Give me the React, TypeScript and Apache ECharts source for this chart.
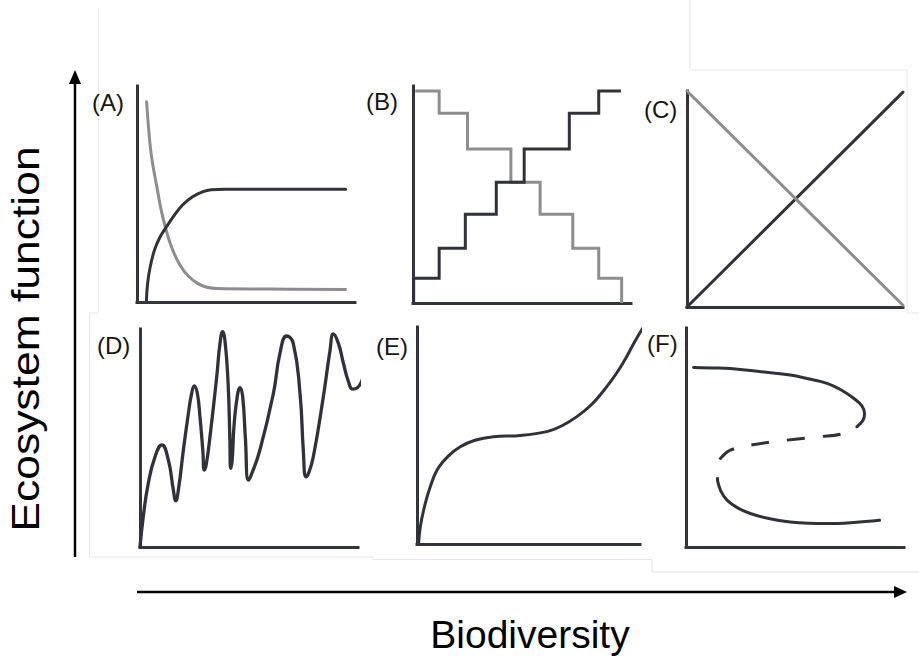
import React, { useEffect, useRef } from "react";
import * as echarts from "echarts";

// ---------- data (x: biodiversity 0-100, y: ecosystem function 0-100) ----------
const panelLabels = ["(A)", "(B)", "(C)", "(D)", "(E)", "(F)"];
const xTitle = "Biodiversity";
const yTitle = "Ecosystem function";

// Panel A
const aDark: [number, number][] = [
  [4.3, 0], [4.8, 8], [6, 16], [8, 24], [10.5, 30], [13.3, 34.5], [17, 40],
  [21, 45], [25.5, 48.7], [30, 51], [34, 52], [40, 52.2], [95.7, 52.2],
];
const aGrey: [number, number][] = [
  [4.4, 92.7], [5.2, 82], [6.2, 71], [7.5, 62], [9, 54], [11, 43], [13.3, 33.5],
  [16, 25], [19.5, 17.5], [23.5, 12], [28, 8.5], [32, 6.8], [37, 6.2], [60, 6], [95.7, 5.8],
];

// Panel B (step functions)
const bRiseX = [0.3, 12, 24, 38.2, 51, 71.7, 85.2, 95.4];
const bRiseY = [0, 11.4, 25.2, 40.9, 55.6, 71, 87.4, 97.7];
const bFallX = [1.05, 12, 25, 44.9, 58.3, 73.3, 85.2, 95.7];
const bFallY = [97.7, 87.4, 71, 55.6, 40.9, 25.2, 11.4, 0];

// Panel C
const cDark: [number, number][] = [[0, 0], [100, 99.5]];
const cGrey: [number, number][] = [[0, 100], [100, 0.8]];

// Panel D
const dCurve: [number, number][] = [
  [0, 0], [1.5, 13.9], [3.8, 29.2], [6.9, 41.4], [10, 46.8], [13, 39.9], [15.3, 26.1],
  [16.4, 21.2], [17.6, 26.1], [19.9, 44.5], [22.2, 61.3], [23.7, 70.5], [24.9, 73.9],
  [26.3, 70.5], [27.5, 59.8], [28.8, 44.5], [29.5, 35.3], [30.4, 38], [32.1, 50.6],
  [35.2, 78.1], [36.7, 93.4], [37.9, 98.8], [39.1, 93.4], [40.4, 75.1], [41.2, 50.6],
  [41.6, 36.1], [42.3, 40], [43.1, 55.2], [44.6, 68.9], [45.9, 73.1], [47.1, 68.9],
  [48.3, 50.6], [49.7, 30.7], [51, 33], [55, 44.5], [61.2, 70.5], [64.2, 88.8],
  [67.3, 96.8], [70.3, 93.4], [73.4, 70.5], [74.9, 44.5], [76.1, 32.2], [77.2, 33.5],
  [79.5, 41.4], [84.1, 68.9], [87.2, 90.4], [88.7, 97.7], [91, 93.4], [93.3, 84.3],
  [95.6, 75.9], [97.6, 72.4], [99.5, 72.9], [102.2, 77.4],
];

// Panel E
const eCurve: [number, number][] = [
  [0.7, 0], [1.5, 8], [3, 15.7], [5.5, 25], [9, 34.1], [14, 40.5], [19.4, 44.8],
  [26, 47.8], [34.3, 49.4], [46.3, 50], [58.2, 51.8], [65, 54.5], [71.7, 58.7],
  [78.5, 64.5], [85.1, 72.5], [90, 79.5], [94, 86.3], [97.5, 93], [101.2, 99.4],
];

// Panel F (fold / hysteresis)
const fUpper: [number, number][] = [
  [3.5, 82], [15, 81.7], [24.9, 81.1], [36, 79.9], [47.8, 78.5], [56, 76.8],
  [64.7, 74.7], [71, 71.8], [76.9, 67.9], [80.6, 64.5], [81.9, 61], [81.2, 57.9], [78.4, 54.9],
];
const fUnstable: [number, number][] = [
  [78.4, 54.9], [70.8, 51.5], [61.6, 50.4], [46.3, 48.8], [29.5, 46.5], [20.3, 44.2],
  [16.5, 41.2], [15, 38.9], [14.4, 34.5], [14.5, 30.2],
];
const fLower: [number, number][] = [
  [14.5, 30.2], [16, 25.5], [18.8, 21.4], [23.5, 18], [29.5, 15.3], [38, 13],
  [47.8, 11.4], [56, 10.8], [64.7, 10.7], [77, 11.2], [88.8, 12.2],
];

// ---------- styling ----------
const DARK = "#30323b";
const GREY = "#8d8d8d";
const AXIS = "#33353d";
const FRAME = "#e6e6e6";

const grids = [
  { left: 137, top: 86, width: 218, height: 216 },
  { left: 413, top: 86, width: 218, height: 217 },
  { left: 687, top: 91, width: 216, height: 216 },
  { left: 140, top: 329, width: 218, height: 218 },
  { left: 417, top: 327, width: 223, height: 217 },
  { left: 686, top: 328, width: 218, height: 219 },
];
const labelPos = [
  [92, 102], [366, 101], [644, 109], [97, 345], [376, 346], [647, 343],
];

function stepVerticalFirst(xs: number[], ys: number[]): [number, number][] {
  const out: [number, number][] = [];
  for (let i = 0; i < xs.length - 1; i++) {
    out.push([xs[i], ys[i]]);
    out.push([xs[i], ys[i + 1]]);
  }
  out.push([xs[xs.length - 1], ys[ys.length - 1]]);
  return out;
}
function stepHorizontalFirst(xs: number[], ys: number[]): [number, number][] {
  const out: [number, number][] = [];
  for (let i = 0; i < xs.length - 1; i++) {
    out.push([xs[i], ys[i]]);
    out.push([xs[i + 1], ys[i]]);
  }
  out.push([xs[xs.length - 1], ys[ys.length - 1]]);
  return out;
}

function axis(i: number) {
  return {
    gridIndex: i,
    type: "value",
    min: 0,
    max: 100,
    axisLine: { show: true, onZero: false, lineStyle: { color: AXIS, width: 3, cap: "square" } },
    axisTick: { show: false },
    axisLabel: { show: false },
    splitLine: { show: false },
  };
}

function line(i: number, data: [number, number][], color: string, smooth: number | boolean, extra: any = {}) {
  return {
    type: "line",
    xAxisIndex: i,
    yAxisIndex: i,
    data,
    symbol: "none",
    showSymbol: false,
    smooth,
    clip: false,
    silent: true,
    lineStyle: { color, width: extra.width ?? 3, cap: "round", join: "round", ...(extra.lineStyle || {}) },
    z: extra.z ?? 3,
  };
}

function frame(x1: number, y1: number, x2: number, y2: number) {
  return { type: "line", shape: { x1, y1, x2, y2 }, style: { stroke: FRAME, lineWidth: 1 }, z: 0 };
}

export default function App() {
  const ref = useRef<HTMLDivElement>(null);
  useEffect(() => {
    if (!ref.current) return;
    const chart = echarts.init(ref.current, null, { renderer: "svg" });
    const font = '"Liberation Sans", Arial, Helvetica, sans-serif';
    const option: any = {
      animation: false,
      backgroundColor: "#ffffff",
      grid: grids.map((g) => ({ ...g, containLabel: false })),
      xAxis: grids.map((_, i) => axis(i)),
      yAxis: grids.map((_, i) => axis(i)),
      series: [
        line(0, aGrey, GREY, 0.4),
        line(0, aDark, DARK, 0.4),
        line(1, stepHorizontalFirst(bFallX, bFallY), GREY, false, { lineStyle: { cap: "butt", join: "miter" } }),
        line(1, stepVerticalFirst(bRiseX, bRiseY), DARK, false, { lineStyle: { cap: "butt", join: "miter" } }),
        line(2, cDark, DARK, false),
        line(2, cGrey, GREY, false),
        line(3, dCurve, DARK, 0.5, { width: 3.3 }),
        line(4, eCurve, DARK, 0.4),
        line(5, fUpper, DARK, 0.4),
        line(5, fUnstable, DARK, 0.4, { lineStyle: { type: [18, 18], dashOffset: 18, cap: "butt" } }),
        line(5, fLower, DARK, 0.4),
      ],
      graphic: {
        elements: [
          frame(98.5, 8, 98.5, 313),
          frame(89.5, 313, 98.5, 313),
          frame(89.5, 313, 89.5, 557),
          frame(89.5, 557, 373, 557),
          frame(373, 557, 373, 559.5),
          frame(373, 559.5, 652, 559.5),
          frame(652, 559.5, 652, 572),
          frame(652, 572, 919, 572),
          frame(690, 0, 690, 70),
          frame(690, 70, 907, 70),
          frame(907, 70, 907, 313),
          frame(907, 313, 919, 313),
          ...panelLabels.map((t, i) => ({
            type: "text",
            x: labelPos[i][0],
            y: labelPos[i][1],
            z: 10,
            style: { text: t, font: `24px ${font}`, fill: "#151515", textAlign: "left", textVerticalAlign: "middle" },
          })),
          {
            type: "line",
            shape: { x1: 75, y1: 557, x2: 75, y2: 80 },
            style: { stroke: "#000", lineWidth: 2.5 },
          },
          {
            type: "polygon",
            shape: { points: [[75, 70], [69, 84], [81, 84]] },
            style: { fill: "#000" },
          },
          {
            type: "line",
            shape: { x1: 137, y1: 592, x2: 897, y2: 592 },
            style: { stroke: "#000", lineWidth: 2.5 },
          },
          {
            type: "polygon",
            shape: { points: [[907, 592], [894, 586], [894, 598]] },
            style: { fill: "#000" },
          },
          {
            type: "text",
            x: 530,
            y: 634,
            style: { text: xTitle, font: `39px ${font}`, fill: "#000", textAlign: "center", textVerticalAlign: "middle" },
          },
          {
            type: "text",
            x: 26,
            y: 339,
            rotation: Math.PI / 2,
            scaleX: 1.17,
            style: { text: yTitle, font: `38px ${font}`, fill: "#000", textAlign: "center", textVerticalAlign: "middle" },
          },
        ],
      },
    };
    chart.setOption(option);
    return () => chart.dispose();
  }, []);
  return (
    <div
      ref={ref}
      style={{ position: "absolute", left: 0, top: 0, width: 919, height: 664 }}
    />
  );
}
